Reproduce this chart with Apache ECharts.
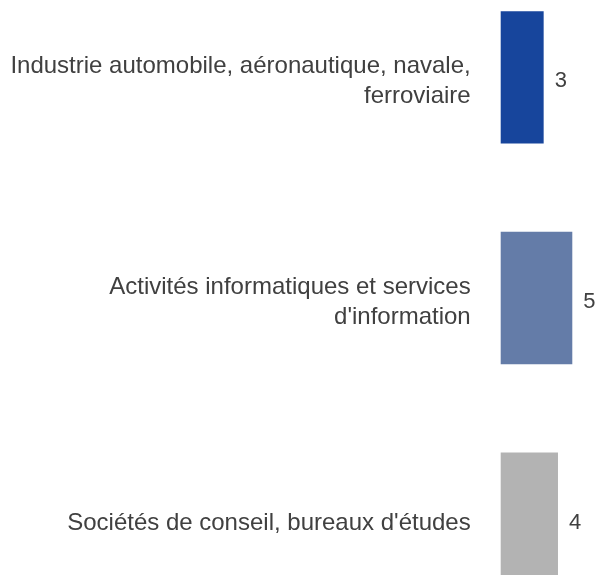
<!DOCTYPE html>
<html>
<head>
<meta charset="utf-8">
<script src="https://cdn.jsdelivr.net/npm/echarts@6/dist/echarts.min.js"></script>
<style>html,body{margin:0;padding:0;background:#fff;overflow:hidden;}#chart{position:absolute;left:0;top:-33.3px;width:597px;height:662px;}</style>
</head>
<body>
<div id="chart"></div>
<script>
const categories = [
  "Industrie automobile, aéronautique, navale,\nferroviaire",
  "Activités informatiques et services\nd'information",
  "Sociétés de conseil, bureaux d'études"
];
const values = [3, 5, 4];
const colors = ["#17459c", "#647ca8", "#b3b3b3"];

const chart = echarts.init(document.getElementById('chart'), null, {renderer: 'canvas'});
chart.setOption({
  animation: false,
  grid: {left: 500.7, width: 71.6, top: 0, bottom: 0, containLabel: false},
  xAxis: {type: 'value', min: 0, max: 5, show: false},
  yAxis: {
    type: 'category', data: categories, inverse: true,
    axisLine: {show: false}, axisTick: {show: false}, splitLine: {show: false},
    axisLabel: {
      margin: 30, fontSize: 24, lineHeight: 30, color: '#404040',
      fontFamily: 'Liberation Sans, Arial, sans-serif', align: 'right',
      formatter: v => '{s| }\n' + v,
      rich: {s: {fontSize: 2, lineHeight: 9}}
    }
  },
  series: [{
    type: 'bar',
    data: values.map((v, i) => ({value: v, itemStyle: {color: colors[i]}})),
    barCategoryGap: '40%',
    label: {show: true, position: 'right', distance: 11, offset: [0, 4], fontSize: 22, color: '#404040', fontFamily: 'Liberation Sans, Arial, sans-serif'}
  }]
});
</script>
</body>
</html>
